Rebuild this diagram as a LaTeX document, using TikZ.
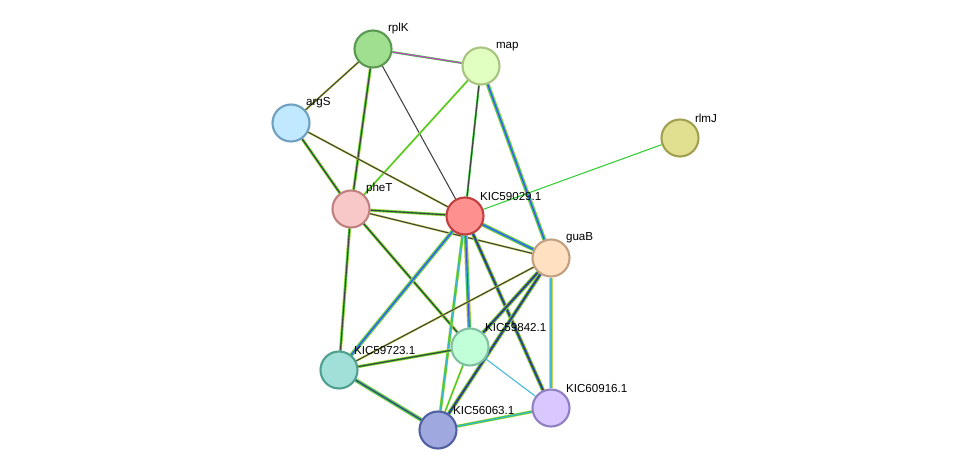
\documentclass[tikz,border=0pt]{standalone}
\usepackage{fontspec}
\setmainfont{Liberation Sans}
\usetikzlibrary{backgrounds}
\definecolor{eg}{HTML}{33CC33}
\definecolor{ey}{HTML}{C8D850}
\definecolor{ek}{HTML}{404040}
\definecolor{ec}{HTML}{40B8D8}
\definecolor{eb}{HTML}{4050E0}
\definecolor{em}{HTML}{D040D0}
\tikzset{
  prot/.style={circle, minimum size=0.37cm, inner sep=0pt, line width=0.6pt},
  lbl/.style={font=\fontsize{3.3}{4}\selectfont, inner sep=0.5pt, label distance=-0.5pt}
}
% stacked evidence lines, widest first
\newcommand\edge[3]{%
  \foreach \c [count=\n] in {#3} {\global\let\nn\n}
  \foreach \c [count=\i] in {#3} {
    \pgfmathsetmacro\w{0.3*(\nn-\i+1)}
    \draw[line width=\w pt, \c] (#1) -- (#2);
  }
}
\begin{document}
\begin{tikzpicture}[x=0.01cm, y=-0.01cm]
	\useasboundingbox (0,0) rectangle (975,476);
	\node[prot, fill={rgb,255:red,160;green,223;blue,144}, draw={rgb,255:red,90;green,154;blue,80}, label={[lbl]45:rplK}] (rplK) at (373,49) {};
	\node[prot, fill={rgb,255:red,224;green,255;blue,192}, draw={rgb,255:red,168;green,196;blue,128}, label={[lbl]45:map}] (map) at (481,66) {};
	\node[prot, fill={rgb,255:red,192;green,232;blue,255}, draw={rgb,255:red,112;green,160;blue,192}, label={[lbl]45:argS}] (argS) at (291,123) {};
	\node[prot, fill={rgb,255:red,224;green,224;blue,144}, draw={rgb,255:red,160;green,160;blue,80}, label={[lbl]45:rlmJ}] (rlmJ) at (680,138) {};
	\node[prot, fill={rgb,255:red,248;green,200;blue,200}, draw={rgb,255:red,192;green,128;blue,128}, label={[lbl]45:pheT}] (pheT) at (351,209) {};
	\node[prot, fill={rgb,255:red,255;green,144;blue,144}, draw={rgb,255:red,192;green,64;blue,64}, label={[lbl]45:KIC59029.1}] (k029) at (465,216) {};
	\node[prot, fill={rgb,255:red,255;green,224;blue,192}, draw={rgb,255:red,192;green,160;blue,128}, label={[lbl]45:guaB}] (guaB) at (551,258) {};
	\node[prot, fill={rgb,255:red,192;green,255;blue,216}, draw={rgb,255:red,128;green,192;blue,160}, label={[lbl]45:KIC59842.1}] (k842) at (470,347) {};
	\node[prot, fill={rgb,255:red,160;green,224;blue,216}, draw={rgb,255:red,80;green,160;blue,144}, label={[lbl]45:KIC59723.1}] (k723) at (339,370) {};
	\node[prot, fill={rgb,255:red,216;green,200;blue,255}, draw={rgb,255:red,144;green,128;blue,192}, label={[lbl]45:KIC60916.1}] (k916) at (551,408) {};
	\node[prot, fill={rgb,255:red,160;green,168;blue,224}, draw={rgb,255:red,80;green,96;blue,160}, label={[lbl]45:KIC56063.1}] (k063) at (438,430) {};

	\begin{scope}[on background layer]
	\edge{rplK}{map}{eg,em}
	\edge{rplK}{argS}{ey,ek}
	\edge{rplK}{pheT}{ey,eg,ek}
	\edge{rplK}{k029}{ek}
	\edge{map}{pheT}{ey,eg}
	\edge{map}{k029}{eg,ek}
	\edge{map}{guaB}{ey,eg,ec,eb}
	\edge{argS}{pheT}{ey,eg,ek}
	\edge{argS}{k029}{ey,ek}
	\edge{rlmJ}{k029}{eg}
	\edge{pheT}{k029}{ey,eg,ek}
	\edge{pheT}{guaB}{ey,ek}
	\edge{pheT}{k842}{ey,eg,ek}
	\edge{pheT}{k723}{ey,eg,ek}
	\edge{k029}{guaB}{ey,eg,ec,eb}
	\edge{k029}{k842}{ey,eg,ec,eb}
	\edge{k029}{k723}{ey,eg,ec,eb}
	\edge{k029}{k916}{ey,eg,eb,ek}
	\edge{k029}{k063}{ey,eg,ec}
	\edge{guaB}{k842}{ey,eg,eb,ek}
	\edge{guaB}{k723}{ey,ek}
	\edge{guaB}{k916}{ey,eg,ec}
	\edge{guaB}{k063}{ey,eg,eb,ek}
	\edge{k842}{k723}{ey,eg,ek}
	\edge{k842}{k916}{ec}
	\edge{k842}{k063}{ey,eg}
	\edge{k723}{k063}{ey,eg,ec,ek}
	\edge{k063}{k916}{ey,eg,ec}
	\end{scope}
\end{tikzpicture}
\end{document}
